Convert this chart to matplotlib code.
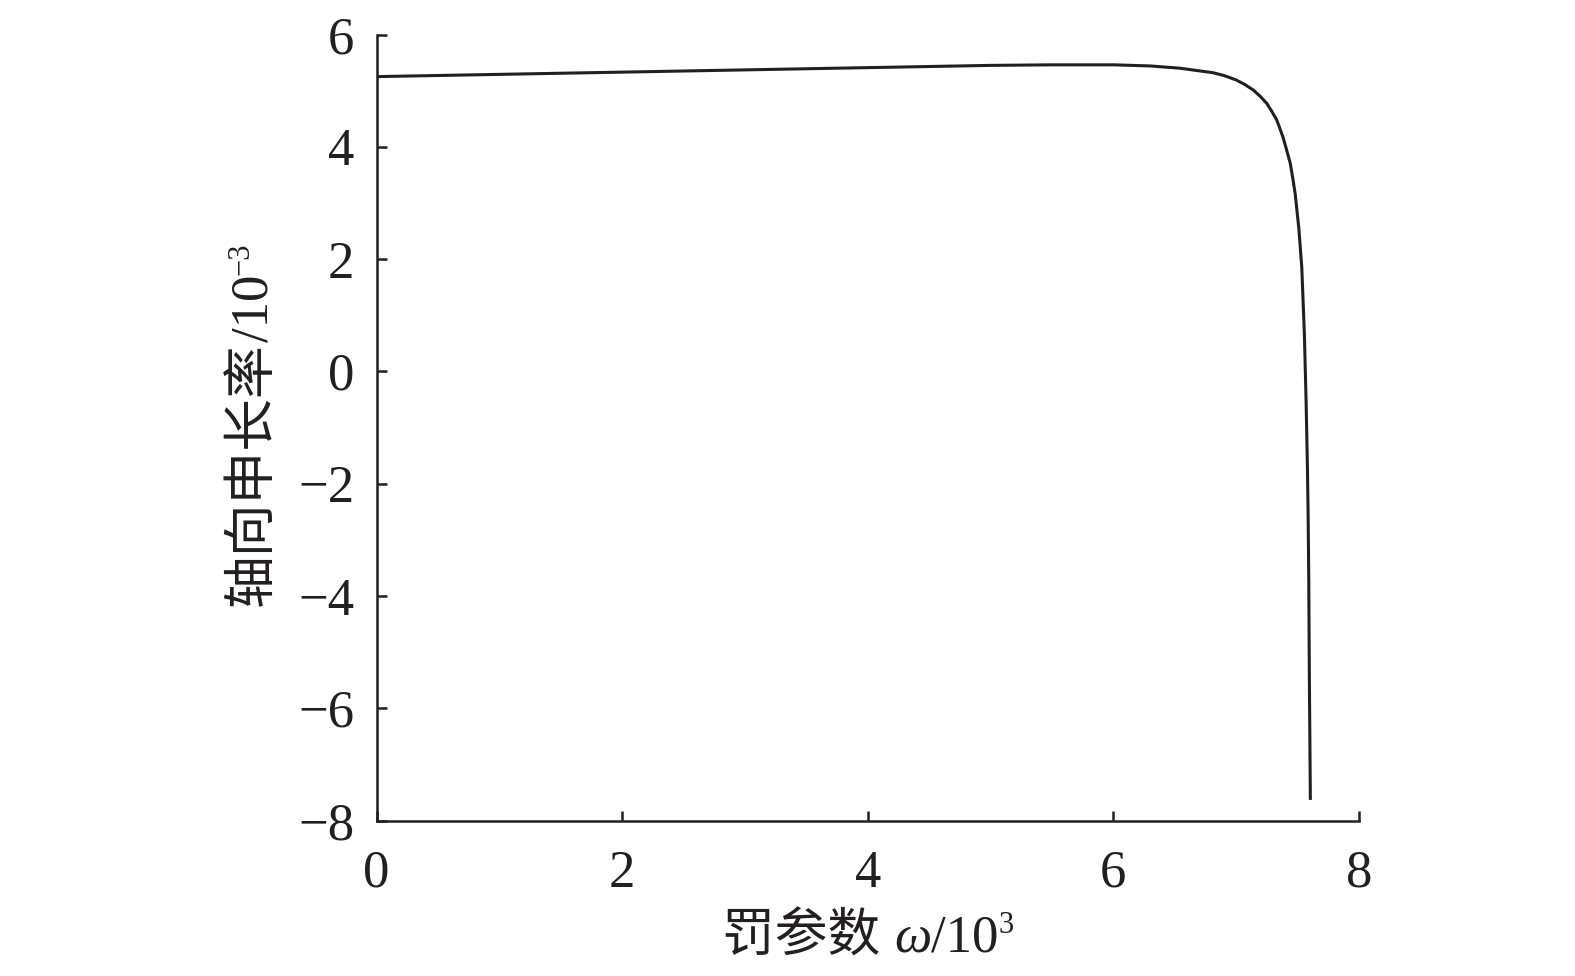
import matplotlib
matplotlib.use("Agg")
import matplotlib.pyplot as plt

# data: penalty parameter omega (10^3) vs axial elongation (10^-3)
omega = [0.0, 1.0, 2.0, 3.0, 4.0, 4.5, 5.0, 5.5, 6.0, 6.3, 6.54, 6.81, 6.9,
         7.0, 7.07, 7.14, 7.2, 7.25, 7.29, 7.33, 7.38, 7.41, 7.44, 7.46, 7.48,
         7.51, 7.534, 7.555, 7.569, 7.580, 7.586, 7.591, 7.596, 7.604]
elong = [5.25, 5.29, 5.33, 5.37, 5.41, 5.43, 5.45, 5.46, 5.46, 5.44, 5.40,
         5.32, 5.27, 5.19, 5.11, 5.01, 4.89, 4.77, 4.63, 4.48, 4.18, 3.95,
         3.71, 3.45, 3.17, 2.55, 1.86, 0.68, -0.51, -1.70, -2.6, -3.72,
         -5.50, -7.63]
xticks = [0, 2, 4, 6, 8]
yticks = [-8, -6, -4, -2, 0, 2, 4, 6]

W, H = 1575, 976
fig = plt.figure(figsize=(W / 100, H / 100), dpi=100)
ax = fig.add_axes([376.5 / W, 1 - 820.7 / H, (1359 - 376.5) / W, (820.7 - 34.5) / H])

ax.plot(omega, elong, color="#231f20", lw=2.2, solid_capstyle="butt",
        solid_joinstyle="round")
ax.set_xlim(0, 8)
ax.set_ylim(-8, 6)
ax.set_xticks(xticks)
ax.set_yticks(yticks)
ax.set_xticklabels([str(v) for v in xticks])
ax.set_yticklabels([str(v).replace("-", "\u2212") for v in yticks])
for s in ["top", "right"]:
    ax.spines[s].set_visible(False)
for s in ["left", "bottom"]:
    ax.spines[s].set_linewidth(1.8)
    ax.spines[s].set_color("#231f20")
ax.tick_params(direction="in", length=7, width=1.8, color="#231f20",
               labelsize=38, labelcolor="#231f20")
ax.tick_params(axis="x", pad=21)
ax.tick_params(axis="y", pad=16)
for lab in ax.get_xticklabels() + ax.get_yticklabels():
    lab.set_fontfamily("Liberation Serif")

fig.canvas.draw()
renderer = fig.canvas.get_renderer()

CJK = ["Liberation Serif", "Noto Sans CJK SC"]


def place(pieces, cx, cy, rotation=0):
    """pieces: (text, fontsize, family, style, shift_px). cx,cy: center/baseline px."""
    made = []
    total = 0
    for s, size, fam, style, shift in pieces:
        t = fig.text(0, 0, s, fontsize=size, family=fam, style=style,
                     rotation=rotation, rotation_mode="anchor",
                     ha="left", va="baseline", color="#231f20")
        bb = t.get_window_extent(renderer)
        L = bb.width if rotation == 0 else bb.height
        made.append((t, L, shift))
        total += L
    pos = -total / 2
    for t, L, shift in made:
        if rotation == 0:
            x, y = cx + pos, (H - cy) + shift
        else:
            x, y = cx - shift, (H - cy) + pos
        t.set_position((x / W, y / H))
        pos += L


# x label
place([("罚参数 ", 38, CJK, "normal", 0),
       ("ω", 38, "Liberation Serif", "italic", 0),
       ("/10", 38, "Liberation Serif", "normal", 0),
       ("3", 22, "Liberation Serif", "normal", 19)],
      868, 952)

# y label (rotated)
place([("轴向申长率", 38, CJK, "normal", 0),
       ("/10", 38, "Liberation Serif", "normal", 0),
       ("\u22123", 22, "Liberation Serif", "normal", 19)],
      267, 424, rotation=90)

fig.savefig("out.png", dpi=100)
